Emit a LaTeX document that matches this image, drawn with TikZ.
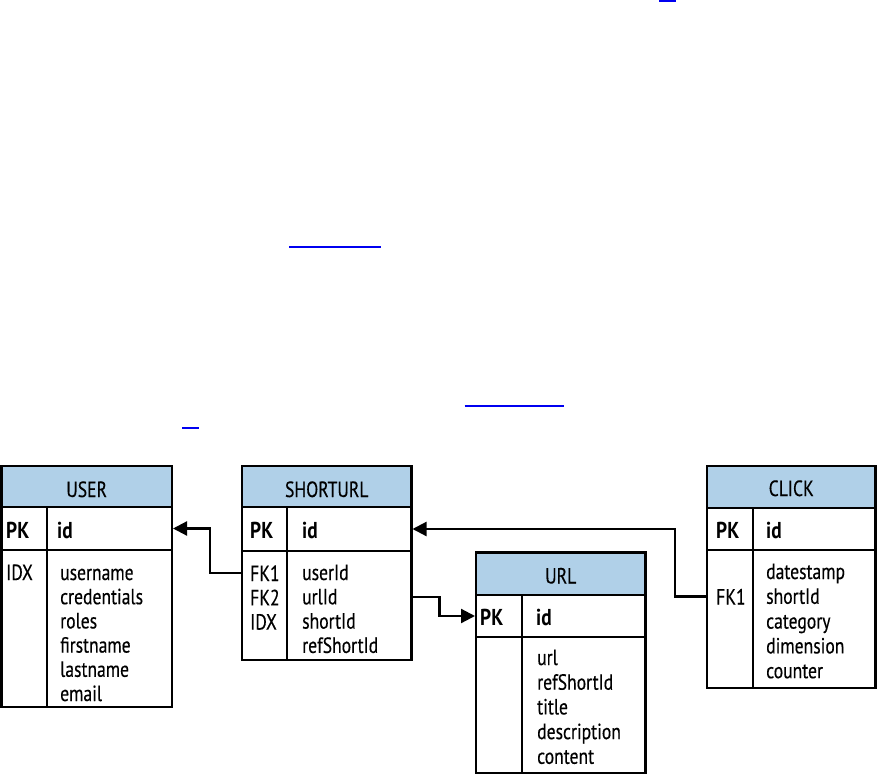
\documentclass[tikz,border=0pt]{standalone}
\usepackage{fontspec}
\setmainfont{PT Sans}[FakeStretch=0.8]
\newfontfamily\bodyf{PT Sans}[FakeStretch=0.8,FakeBold=0.35]
\newfontfamily\pkf{PT Sans}[FakeStretch=0.84]
\usetikzlibrary{arrows.meta,calc}
\definecolor{hdrblue}{RGB}{176,208,232}
\definecolor{linkblue}{RGB}{0,0,240}
\begin{document}
\begin{tikzpicture}[x=1pt,y=-1pt,
  box/.style={draw=black,line width=2.6pt,inner sep=0pt,outer sep=0pt},
  hdr/.style={box,fill=hdrblue},
  divl/.style={draw=black,line width=2.6pt},
  htext/.style={anchor=base,inner sep=0pt,font=\bodyf\fontsize{22}{24}\selectfont},
  pktext/.style={anchor=base west,inner sep=0pt,font=\pkf\fontsize{23}{24}\bfseries\selectfont},
  ftext/.style={anchor=base west,inner sep=0pt,text height=16pt,text depth=0pt,font=\bodyf\fontsize{22}{24}\selectfont},
  conn/.style={draw=black,line width=2.2pt,shorten >=1pt},
  tip/.style={-{Triangle[length=14pt,width=14pt]}},
  link/.style={draw=linkblue,line width=2pt}]
\useasboundingbox (0,0) rectangle (877,775);

% link underlines
\draw[link] (659,1) -- (676,1);
\draw[link] (289,247.3) -- (381,247.3);
\draw[link] (464.5,405.7) -- (563.5,405.7);
\draw[link] (182,428) -- (199,428);

% ---------- USER ----------
\node[hdr, minimum width=170.7pt, minimum height=41pt] (user-h) at (86.65,486.5) {};
\node[box, minimum width=170.7pt, minimum height=43pt] (user-pk) at (86.65,528.5) {};
\node[box, minimum width=170.7pt, minimum height=157pt] (user-body) at (86.65,628.5) {};
\draw[divl] (47,0 |- user-pk.north) -- (47,0 |- user-body.south);
\node[htext] (user-t) at (86.65,497) {USER};
\node[pktext] (user-pkk) at (6,538.5) {PK};
\node[pktext] (user-pkf) at (57,538.5) {id};
\node[ftext] (user-k1) at (6,580) {IDX};
\foreach \t [count=\i from 0] in {username,credentials,roles,firstname,lastname,email}
  \node[ftext] (user-f\i) at (60,{580+24.2*\i}) {\t};

% ---------- SHORTURL ----------
\node[hdr, minimum width=169.5pt, minimum height=41pt] (srt-h) at (326.75,486.5) {};
\node[box, minimum width=169.5pt, minimum height=44pt] (srt-pk) at (326.75,529) {};
\node[box, minimum width=169.5pt, minimum height=109pt] (srt-body) at (326.75,605.5) {};
\draw[divl] (287,0 |- srt-pk.north) -- (287,0 |- srt-body.south);
\node[htext] (srt-t) at (326.75,497) {SHORTURL};
\node[pktext] (srt-pkk) at (250,538.5) {PK};
\node[pktext] (srt-pkf) at (302,538.5) {id};
\node[ftext] (sfk1) at (250,581) {FK1};
\node[ftext] (sfk2) at (250,605.3) {FK2};
\node[ftext] (sidx) at (250,629.6) {IDX};
\foreach \t [count=\i from 0] in {userId,urlId,shortId,refShortId}
  \node[ftext] (srt-f\i) at (302,{580+24.3*\i}) {\t};

% ---------- URL ----------
\node[hdr, minimum width=169.5pt, minimum height=42.5pt] (url-h) at (560.75,573.75) {};
\node[box, minimum width=169.5pt, minimum height=42pt] (url-pk) at (560.75,616) {};
\node[box, minimum width=169.5pt, minimum height=136pt] (url-body) at (560.75,705) {};
\draw[divl] (522,0 |- url-pk.north) -- (522,0 |- url-body.south);
\node[htext] (url-t) at (560.75,583.5) {URL};
\node[pktext] (url-pkk) at (480,625.5) {PK};
\node[pktext] (url-pkf) at (536,625.5) {id};
\foreach \t [count=\i from 0] in {url,refShortId,title,description,content}
  \node[ftext] (url-f\i) at (537,{665+24.7*\i}) {\t};

% ---------- CLICK ----------
\node[hdr, minimum width=168.5pt, minimum height=42pt] (click-h) at (791.25,487) {};
\node[box, minimum width=168.5pt, minimum height=42pt] (click-pk) at (791.25,529) {};
\node[box, minimum width=168.5pt, minimum height=138pt] (click-body) at (791.25,619) {};
\draw[divl] (753,0 |- click-pk.north) -- (753,0 |- click-body.south);
\node[htext] (click-t) at (791.25,496) {CLICK};
\node[pktext] (click-pkk) at (716,538.5) {PK};
\node[pktext] (click-pkf) at (766,538.5) {id};
\node[ftext] (cfk1) at (716,604.5) {FK1};
\foreach \t [count=\i from 0] in {datestamp,shortId,category,dimension,counter}
  \node[ftext] (click-f\i) at (766,{579+24.8*\i}) {\t};

% ---------- connectors ----------
\draw[conn,tip] (srt-body.west |- sfk1) -- ++(-32,0) |- (user-pk.east);
\draw[conn,tip] (srt-body.east |- sfk2) -- ++(28,0) |- (url-pk.west);
\draw[conn,tip] (click-body.west |- cfk1) -- ++(-32,0) |- (srt-pk.east);
\end{tikzpicture}
\end{document}
